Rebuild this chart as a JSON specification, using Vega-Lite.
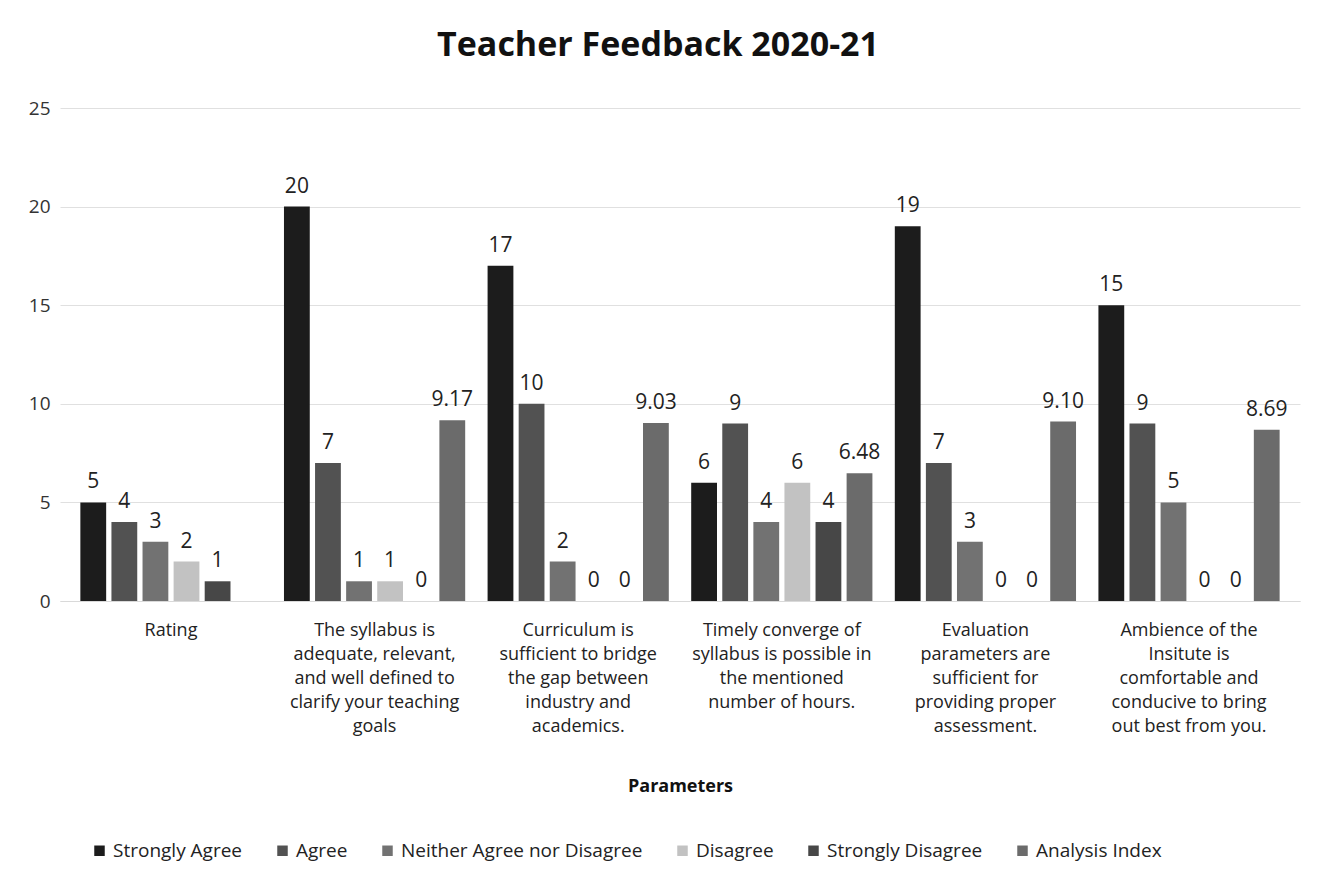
{
  "$schema": "https://vega.github.io/schema/vega-lite/v6.json",
  "width": 1240,
  "height": 493,
  "autosize": {"type": "none"},
  "padding": {"left": 60, "top": 108, "right": 20, "bottom": 276},
  "background": "white",
  "title": {"text": "Teacher Feedback 2020-21", "font": "Open Sans", "fontSize": 34, "fontWeight": "bold", "color": "#111", "offset": 36, "dx": -22},
  "config": {"view": {"stroke": null}, "font": "Open Sans"},
  "data": {"values": [
    {"category": "Rating", "series": "Strongly Agree", "value": 5},
    {"category": "Rating", "series": "Agree", "value": 4},
    {"category": "Rating", "series": "Neither Agree nor Disagree", "value": 3},
    {"category": "Rating", "series": "Disagree", "value": 2},
    {"category": "Rating", "series": "Strongly Disagree", "value": 1},
    {"category": "The syllabus is\nadequate, relevant,\nand well defined to\nclarify your teaching\ngoals", "series": "Strongly Agree", "value": 20},
    {"category": "The syllabus is\nadequate, relevant,\nand well defined to\nclarify your teaching\ngoals", "series": "Agree", "value": 7},
    {"category": "The syllabus is\nadequate, relevant,\nand well defined to\nclarify your teaching\ngoals", "series": "Neither Agree nor Disagree", "value": 1},
    {"category": "The syllabus is\nadequate, relevant,\nand well defined to\nclarify your teaching\ngoals", "series": "Disagree", "value": 1},
    {"category": "The syllabus is\nadequate, relevant,\nand well defined to\nclarify your teaching\ngoals", "series": "Strongly Disagree", "value": 0},
    {"category": "The syllabus is\nadequate, relevant,\nand well defined to\nclarify your teaching\ngoals", "series": "Analysis Index", "value": 9.17},
    {"category": "Curriculum is\nsufficient to bridge\nthe gap between\nindustry and\nacademics.", "series": "Strongly Agree", "value": 17},
    {"category": "Curriculum is\nsufficient to bridge\nthe gap between\nindustry and\nacademics.", "series": "Agree", "value": 10},
    {"category": "Curriculum is\nsufficient to bridge\nthe gap between\nindustry and\nacademics.", "series": "Neither Agree nor Disagree", "value": 2},
    {"category": "Curriculum is\nsufficient to bridge\nthe gap between\nindustry and\nacademics.", "series": "Disagree", "value": 0},
    {"category": "Curriculum is\nsufficient to bridge\nthe gap between\nindustry and\nacademics.", "series": "Strongly Disagree", "value": 0},
    {"category": "Curriculum is\nsufficient to bridge\nthe gap between\nindustry and\nacademics.", "series": "Analysis Index", "value": 9.03},
    {"category": "Timely converge of\nsyllabus is possible in\nthe mentioned\nnumber of hours.", "series": "Strongly Agree", "value": 6},
    {"category": "Timely converge of\nsyllabus is possible in\nthe mentioned\nnumber of hours.", "series": "Agree", "value": 9},
    {"category": "Timely converge of\nsyllabus is possible in\nthe mentioned\nnumber of hours.", "series": "Neither Agree nor Disagree", "value": 4},
    {"category": "Timely converge of\nsyllabus is possible in\nthe mentioned\nnumber of hours.", "series": "Disagree", "value": 6},
    {"category": "Timely converge of\nsyllabus is possible in\nthe mentioned\nnumber of hours.", "series": "Strongly Disagree", "value": 4},
    {"category": "Timely converge of\nsyllabus is possible in\nthe mentioned\nnumber of hours.", "series": "Analysis Index", "value": 6.48},
    {"category": "Evaluation\nparameters are\nsufficient for\nproviding proper\nassessment.", "series": "Strongly Agree", "value": 19},
    {"category": "Evaluation\nparameters are\nsufficient for\nproviding proper\nassessment.", "series": "Agree", "value": 7},
    {"category": "Evaluation\nparameters are\nsufficient for\nproviding proper\nassessment.", "series": "Neither Agree nor Disagree", "value": 3},
    {"category": "Evaluation\nparameters are\nsufficient for\nproviding proper\nassessment.", "series": "Disagree", "value": 0},
    {"category": "Evaluation\nparameters are\nsufficient for\nproviding proper\nassessment.", "series": "Strongly Disagree", "value": 0},
    {"category": "Evaluation\nparameters are\nsufficient for\nproviding proper\nassessment.", "series": "Analysis Index", "value": 9.10},
    {"category": "Ambience of the\nInsitute is\ncomfortable and\nconducive to bring\nout best from you.", "series": "Strongly Agree", "value": 15},
    {"category": "Ambience of the\nInsitute is\ncomfortable and\nconducive to bring\nout best from you.", "series": "Agree", "value": 9},
    {"category": "Ambience of the\nInsitute is\ncomfortable and\nconducive to bring\nout best from you.", "series": "Neither Agree nor Disagree", "value": 5},
    {"category": "Ambience of the\nInsitute is\ncomfortable and\nconducive to bring\nout best from you.", "series": "Disagree", "value": 0},
    {"category": "Ambience of the\nInsitute is\ncomfortable and\nconducive to bring\nout best from you.", "series": "Strongly Disagree", "value": 0},
    {"category": "Ambience of the\nInsitute is\ncomfortable and\nconducive to bring\nout best from you.", "series": "Analysis Index", "value": 8.69}
  ]},
  "transform": [
    {"calculate": "datum.series === 'Analysis Index' ? format(datum.value, '.2f') : format(datum.value, 'd')", "as": "label"}
  ],
  "encoding": {
    "x": {
      "field": "category", "type": "nominal", "sort": null,
      "scale": {"paddingInner": 0.11, "paddingOuter": 0.1},
      "axis": {
        "title": "Parameters", "titleFontSize": 18, "titleFontWeight": "bold", "titleColor": "#111", "titlePadding": 42,
        "labelExpr": "split(datum.label, '\\n')", "labelAngle": 0, "labelFontSize": 18, "labelLineHeight": 24,
        "labelColor": "#222", "labelPadding": 20, "labelLimit": 300,
        "ticks": false, "domain": true, "domainColor": "#d9d9d9", "labelBaseline": "top"
      }
    },
    "xOffset": {"field": "series", "type": "nominal", "sort": ["Strongly Agree", "Agree", "Neither Agree nor Disagree", "Disagree", "Strongly Disagree", "Analysis Index"], "scale": {"paddingInner": 0.17, "paddingOuter": 0}},
    "y": {
      "field": "value", "type": "quantitative",
      "scale": {"domain": [0, 25]},
      "axis": {"title": null, "values": [0, 5, 10, 15, 20, 25], "labelFontSize": 19, "labelColor": "#333", "domain": false, "ticks": false, "gridColor": "#e0e0e0", "labelPadding": 10}
    }
  },
  "layer": [
    {
      "mark": {"type": "bar"},
      "encoding": {
        "color": {
          "field": "series", "type": "nominal",
          "scale": {
            "domain": ["Strongly Agree", "Agree", "Neither Agree nor Disagree", "Disagree", "Strongly Disagree", "Analysis Index"],
            "range": ["#1c1c1c", "#525252", "#727272", "#c2c2c2", "#474747", "#6b6b6b"]
          },
          "legend": {
            "title": null, "orient": "none", "legendX": 30, "legendY": 733, "direction": "horizontal", "columns": 6,
            "symbolType": "square", "symbolSize": 110, "labelFontSize": 19, "labelColor": "#222", "columnPadding": 30, "labelLimit": 400
          }
        }
      }
    },
    {
      "mark": {"type": "text", "dy": -20, "fontSize": 21, "color": "#222"},
      "encoding": {"text": {"field": "label"}}
    }
  ]
}
